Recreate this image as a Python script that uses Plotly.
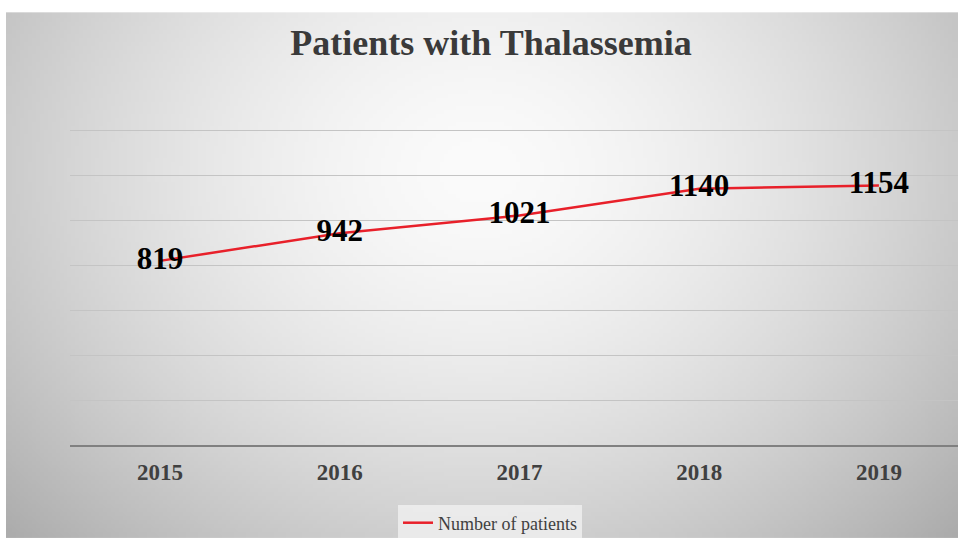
import base64, struct, zlib
import numpy as np
import plotly.graph_objects as go

years = ["2015", "2016", "2017", "2018", "2019"]
patients = [819, 942, 1021, 1140, 1154]
series_name = "Number of patients"
title_text = "Patients with Thalassemia"

W, H = 958, 538
YMAX = 1410
ML, MR, MB = 70, 0, 93
MT = 445 - 315 * YMAX / 1400


def make_png(arr):
    h, w = arr.shape
    raw = b"".join(b"\x00" + arr[i].tobytes() for i in range(h))

    def chunk(t, d):
        c = struct.pack(">I", len(d)) + t + d
        return c + struct.pack(">I", zlib.crc32(t + d) & 0xFFFFFFFF)

    return (b"\x89PNG\r\n\x1a\n" + chunk(b"IHDR", struct.pack(">IIBBBBB", w, h, 8, 0, 0, 0, 0))
            + chunk(b"IDAT", zlib.compress(raw, 9)) + chunk(b"IEND", b""))


# radial grey background (decoration)
gw, gh = 240, 132
xs = np.linspace(6, 958, gw)
ys = np.linspace(12, 538, gh)
X, Y = np.meshgrid(xs, ys)
r = np.sqrt(((X - 480) / 540) ** 2 + ((Y - 170) / 440) ** 2)
val = 251 - 58 * np.clip(r, 0, 1.3) ** 1.6
img = np.clip(val, 0, 255).astype(np.uint8)
uri = "data:image/png;base64," + base64.b64encode(make_png(img)).decode()

pw, ph = W - ML - MR, H - MT - MB
px = lambda x: (x - ML) / pw
py = lambda y: (H - MB - y) / ph

fig = go.Figure()
fig.add_trace(go.Scatter(
    x=years, y=patients, mode="lines+text", name=series_name,
    line=dict(color="#e8202a", width=2.5),
    text=[str(v) for v in patients], textposition="middle center",
    textfont=dict(family="Liberation Serif", size=31, color="#000000", weight="bold"),
    cliponaxis=False,
))

fig.add_layout_image(dict(
    source=uri, xref="paper", yref="paper", x=px(6), y=py(12),
    sizex=px(958) - px(6), sizey=py(12) - py(538),
    xanchor="left", yanchor="top", sizing="stretch", layer="below",
))

fig.update_layout(
    width=W, height=H,
    margin=dict(l=ML, r=MR, t=MT, b=MB, autoexpand=False),
    paper_bgcolor="#ffffff", plot_bgcolor="rgba(0,0,0,0)",
    title=dict(text=title_text, x=491 / W, xanchor="center", y=1 - 42 / H, yanchor="middle",
               font=dict(family="Liberation Serif", size=36, color="#3a3a3a", weight="bold")),
    showlegend=True,
    legend=dict(orientation="h", xref="container", x=490 / W, xanchor="center",
                yref="container", y=1 - 523 / H, yanchor="middle",
                bgcolor="rgba(238,238,238,0.85)",
                font=dict(family="Liberation Serif", size=18, color="#404040"),
                itemwidth=30),
    xaxis=dict(type="category", range=[-0.5, 4.44], showgrid=False, showline=True,
               linecolor="#808080", linewidth=2, ticks="", ticklabelstandoff=5, automargin=False,
               tickfont=dict(family="Liberation Serif", size=23, color="#404040", weight="bold")),
    yaxis=dict(range=[0, YMAX], tickvals=[200, 400, 600, 800, 1000, 1200, 1400],
               showticklabels=False, showgrid=True, automargin=False,
               gridcolor="#c4c4c4", gridwidth=1, zeroline=False),
)

fig.write_html("out.html", config={"displayModeBar": False},
               post_script="document.body.style.margin='0';")
